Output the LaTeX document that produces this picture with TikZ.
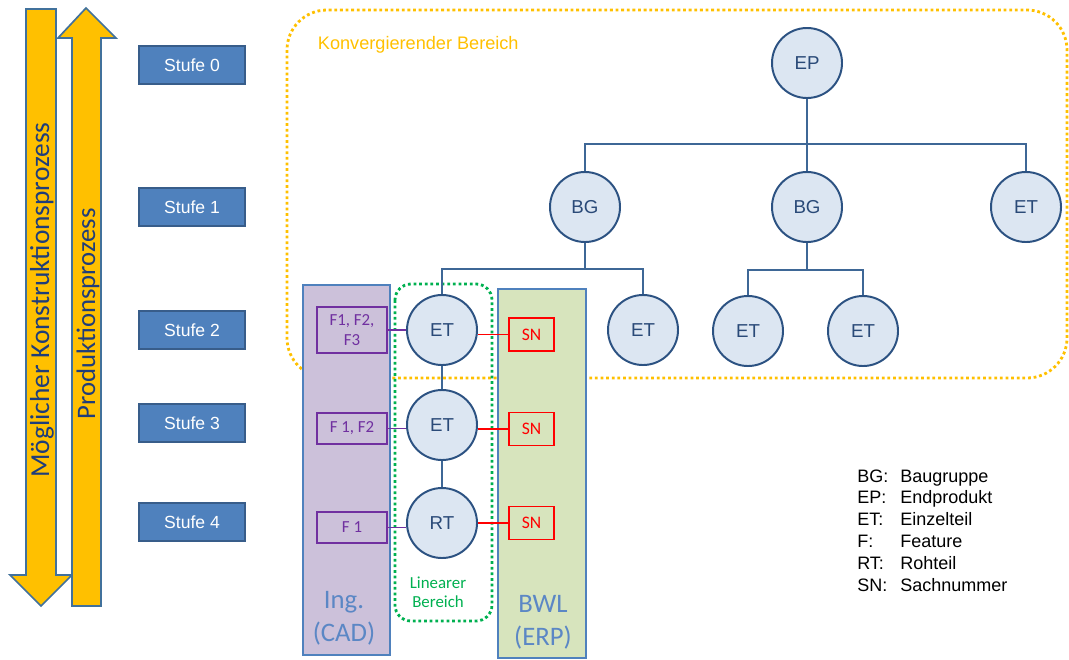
\documentclass[tikz,border=0pt]{standalone}
\usepackage{fontspec}
\setmainfont{Liberation Sans}
\newfontfamily\calfont{Carlito}

\definecolor{pfeilgelb}{HTML}{FFC000}
\definecolor{pfeilrand}{HTML}{41719C}
\definecolor{pfeiltext}{HTML}{1F3D7A}
\definecolor{stufeblau}{HTML}{4F81BD}
\definecolor{stuferand}{HTML}{385D8A}
\definecolor{kreisfill}{HTML}{DCE6F2}
\definecolor{kreisrand}{HTML}{2C5282}
\definecolor{kreistext}{HTML}{2A4A78}
\definecolor{linie}{HTML}{3E6796}
\definecolor{ingfill}{HTML}{CCC1DA}
\definecolor{bwlfill}{HTML}{D7E4BD}
\definecolor{spaltentext}{HTML}{5B87C5}
\definecolor{lila}{HTML}{7030A0}
\definecolor{rot}{HTML}{FF0000}
\definecolor{gruen}{HTML}{00B050}

\tikzset{
  stufe/.style={draw=stuferand, fill=stufeblau, text=white, line width=1pt,
    minimum width=2.65cm, minimum height=0.95cm, font=\fontsize{12.5}{14}\selectfont},
  teil/.style={circle, draw=kreisrand, fill=kreisfill, line width=1.4pt,
    minimum size=1.75cm, inner sep=0pt, text=kreistext, font=\fontsize{13.3}{15}\selectfont},
  verb/.style={draw=linie, line width=1.3pt},
  fbox/.style={draw=lila, fill=ingfill, text=lila, line width=1.1pt, minimum width=1.75cm,
    inner sep=1pt, align=center, font=\calfont\fontsize{12}{14.5}\selectfont},
  snbox/.style={draw=rot, fill=bwlfill, text=rot, line width=1.1pt, minimum width=1.125cm,
    minimum height=0.82cm, inner sep=1pt, font=\calfont\fontsize{12.5}{14}\selectfont},
  spalte/.style={draw=stufeblau, line width=1.5pt, inner sep=0pt},
  pfeil/.style={draw=pfeilrand, fill=pfeilgelb, line width=1.2pt, line join=miter},
  bereich/.style={line width=2pt, dash pattern=on 2pt off 2pt},
}

\begin{document}
\begin{tikzpicture}[x={(0.025cm,0)}, y={(0,-0.025cm)}]
  \useasboundingbox (0,0) rectangle (1069,659);

  % Pfeile links
  \draw[pfeil] (26,9) -- (56,9) -- (56,575) -- (72,575) -- (41,606) -- (10,575) -- (26,575) -- cycle;
  \draw[pfeil] (86,8) -- (116,38) -- (101,38) -- (101,606) -- (72,606) -- (72,38) -- (58,38) -- cycle;
  \node[rotate=90, text=pfeiltext, font=\calfont\fontsize{19.5}{22}\selectfont] (konstr) at (42,300) {Möglicher Konstruktionsprozess};
  \node[rotate=90, text=pfeiltext, font=\calfont\fontsize{19}{22}\selectfont] (prod) at (88,314) {Produktionsprozess};

  % Stufen
  \foreach \n/\y in {0/65, 1/207, 2/330, 3/423, 4/522}
    \node[stufe] (stufe\n) at (192,\y) {Stufe \n};

  % Konvergierender Bereich
  \draw[bereich, pfeilgelb, rounded corners=1cm] (287,10) rectangle (1067,378);
  \node[anchor=west, text=pfeilgelb, font=\fontsize{12.9}{15}\selectfont] (konv) at (313,45) {Konvergierender Bereich};

  % Spalten Ing. und BWL
  \node[spalte, fill=ingfill, minimum width=2.175cm, minimum height=9.25cm] (ing) at (346.5,470) {};
  \node[spalte, fill=bwlfill, minimum width=2.2cm, minimum height=9.225cm] (bwl) at (542,473.5) {};
  \node[align=center, text=spaltentext, font=\calfont\fontsize{19}{23.5}\selectfont] (inglabel) at (344,618) {Ing.\\(CAD)};
  \node[align=center, text=spaltentext, font=\calfont\fontsize{19}{23.5}\selectfont] (bwllabel) at (543,622) {BWL\\(ERP)};

  % Linearer Bereich
  \draw[bereich, gruen, rounded corners=0.4cm] (395,284) rectangle (492,621);
  \node[align=center, text=gruen, font=\calfont\fontsize{12}{13.5}\selectfont] (linear) at (438,592) {Linearer\\Bereich};

  % Baum
  \node[teil] (ep) at (807,63) {EP};
  \node[teil] (bg1) at (585,207) {BG};
  \node[teil] (bg2) at (807,207) {BG};
  \node[teil] (et1) at (1026,207) {ET};
  \node[teil] (et2a) at (442,330) {ET};
  \node[teil] (et2b) at (643,330) {ET};
  \node[teil] (et2c) at (748,331) {ET};
  \node[teil] (et2d) at (863,331) {ET};
  \node[teil] (et3) at (442,425) {ET};
  \node[teil] (rt4) at (442,523) {RT};
  \coordinate (bus0) at (807,144);
  \coordinate (bus1) at (585,269);
  \coordinate (bus2) at (807,270);

  \draw[verb] (ep) -- (bg2);
  \draw[verb] (bg1.north) -- (bg1.north |- bus0) -- (et1.north |- bus0) -- (et1.north);
  \draw[verb] (bg1) -- (bus1);
  \draw[verb] (et2a.north) -- (et2a.north |- bus1) -- (et2b.north |- bus1) -- (et2b.north);
  \draw[verb] (bg2) -- (bus2);
  \draw[verb] (et2c.north) -- (et2c.north |- bus2) -- (et2d.north |- bus2) -- (et2d.north);
  \draw[verb] (et2a) -- (et3);
  \draw[verb] (et3) -- (rt4);

  % Features
  \node[fbox, minimum height=1.15cm] (f2) at (352,330) {F1, F2,\\F3};
  \node[fbox, minimum height=0.78cm] (f3) at (352,428.5) {F 1, F2};
  \node[fbox, minimum height=0.78cm] (f4) at (352,527.5) {F 1};
  \draw[lila, line width=1.1pt] (f2.east) -- (f2.east -| et2a.west);
  \draw[lila, line width=1.1pt] (f3.east) -- (f3.east -| et3.west);
  \draw[lila, line width=1.1pt] (f4.east) -- (f4.east -| rt4.west);

  % Sachnummern
  \node[snbox] (sn2) at (531.5,334.5) {SN};
  \node[snbox] (sn3) at (531.5,429) {SN};
  \node[snbox] (sn4) at (531.5,523) {SN};
  \draw[rot, line width=1.1pt] (sn2.west) -- (sn2.west -| et2a.east);
  \draw[rot, line width=1.1pt] (sn3.west) -- (sn3.west -| et3.east);
  \draw[rot, line width=1.1pt] (sn4.west) -- (sn4.west -| rt4.east);

  % Legende
  \foreach \k/\v [count=\i from 0] in {BG/Baugruppe, EP/Endprodukt, ET/Einzelteil, F/Feature, RT/Rohteil, SN/Sachnummer} {
    \node[anchor=base west, inner sep=0pt, font=\fontsize{12.8}{15}\selectfont] (leg\k) at (857,482+21.8*\i) {\k:};
    \node[anchor=base west, inner sep=0pt, font=\fontsize{12.8}{15}\selectfont] (def\k) at (900,482+21.8*\i) {\v};
  }
\end{tikzpicture}
\end{document}
